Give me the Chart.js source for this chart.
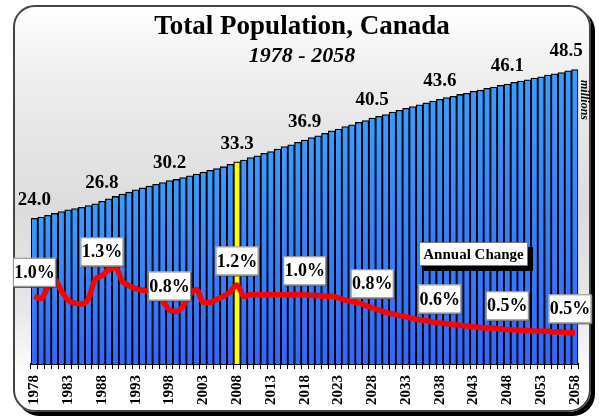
<!DOCTYPE html>
<html>
<head>
<meta charset="utf-8">
<title>Total Population, Canada</title>
<script src="https://cdn.jsdelivr.net/npm/chart.js@4.4.1/dist/chart.umd.min.js"></script>
<style>
    body { margin: 0; background: #fff; }
    .wrap { position: relative; width: 599px; height: 419px; overflow: hidden; font-family: 'Liberation Serif', 'Times New Roman', serif; }
    .frame {
        position: absolute; left: 13px; top: 5px; width: 574px; height: 403px;
        border: 2px solid #444; border-radius: 22px;
        background: linear-gradient(to bottom, #ffffff 0%, #eeeeee 18%, #dcdcdc 50%, #e8e8e8 75%, #ffffff 92%);
        box-shadow: 4px 4px 0 #000;
    }
    canvas { position: absolute; left: 0; top: 0; }
    .title { position: absolute; left: 0; width: 604px; text-align: center; color: #000; line-height: 1; }
    .t1 { top: 12px; font-size: 27px; font-weight: bold; }
    .t2 { top: 44px; font-size: 22px; font-weight: bold; font-style: italic; }
    .units { position: absolute; left: 561px; top: 94px; width: 48px; text-align: center; font-size: 12px; font-weight: bold; font-style: italic; line-height: 1; transform: rotate(90deg); }
    .legend {
        position: absolute; left: 419px; top: 242px; width: 107px; height: 22px;
        background: #fff; border: 1px solid #777; box-shadow: 5px 5px 0 #000;
        font-size: 15px; font-weight: bold; text-align: center; line-height: 22px;
    }
</style>
</head>
<body>
<div class="wrap">
    <div class="frame"></div>
    <canvas id="popChart" width="599" height="419"></canvas>
    <div class="title t1">Total Population, Canada</div>
    <div class="title t2">1978 - 2058</div>
    <div class="units">millions</div>
    <div class="legend">Annual Change</div>
</div>

<script>
// ====== DATA ======
const years = [
    '1978','1979','1980','1981','1982','1983','1984','1985','1986','1987',
    '1988','1989','1990','1991','1992','1993','1994','1995','1996','1997',
    '1998','1999','2000','2001','2002','2003','2004','2005','2006','2007',
    '2008','2009','2010','2011','2012','2013','2014','2015','2016','2017',
    '2018','2019','2020','2021','2022','2023','2024','2025','2026','2027',
    '2028','2029','2030','2031','2032','2033','2034','2035','2036','2037',
    '2038','2039','2040','2041','2042','2043','2044','2045','2046','2047',
    '2048','2049','2050','2051','2052','2053','2054','2055','2056','2057',
    '2058'
];

// population, millions
const population = [
    24.0, 24.2, 24.5, 24.8, 25.1, 25.4, 25.6, 25.8, 26.1, 26.4,
    26.8, 27.2, 27.6, 28.0, 28.3, 28.7, 29.0, 29.3, 29.6, 29.9,
    30.2, 30.4, 30.7, 31.0, 31.3, 31.6, 31.9, 32.2, 32.5, 32.9,
    33.3, 33.6, 34.0, 34.3, 34.7, 35.0, 35.4, 35.8, 36.1, 36.5,
    36.9, 37.3, 37.6, 38.0, 38.4, 38.7, 39.1, 39.4, 39.8, 40.1,
    40.5, 40.8, 41.1, 41.5, 41.8, 42.1, 42.4, 42.7, 43.0, 43.3,
    43.6, 43.9, 44.1, 44.4, 44.6, 44.9, 45.1, 45.4, 45.6, 45.9,
    46.1, 46.4, 46.6, 46.8, 47.1, 47.3, 47.6, 47.8, 48.0, 48.3,
    48.5
];

// annual change, %
const annualChange = [
    0.98, 0.95, 1.10, 1.20, 1.05, 0.93, 0.89, 0.88, 0.95, 1.20,
    1.25, 1.33, 1.36, 1.18, 1.12, 1.08, 1.06, 1.04, 1.00, 0.92,
    0.80, 0.78, 0.85, 1.00, 1.07, 0.90, 0.90, 0.94, 0.98, 1.04,
    1.13, 0.98, 1.00, 1.00, 1.00, 1.00, 1.00, 1.00, 1.00, 1.00,
    1.00, 0.99, 0.99, 0.98, 0.98, 0.96, 0.93, 0.91, 0.89, 0.86,
    0.83, 0.80, 0.77, 0.75, 0.73, 0.71, 0.69, 0.67, 0.66, 0.64,
    0.63, 0.62, 0.61, 0.60, 0.59, 0.58, 0.57, 0.56, 0.56, 0.55,
    0.54, 0.54, 0.53, 0.53, 0.52, 0.52, 0.52, 0.51, 0.51, 0.50,
    0.50
];

// labelled years and their boxed change values
const labelYears = ['1978','1988','1998','2008','2018','2028','2038','2048','2058'];
const changeLabels = ['1.0%','1.3%','0.8%','1.2%','1.0%','0.8%','0.6%','0.5%','0.5%'];
const highlightYear = '2008';

// ====== LABELS PLUGIN ======
const valueLabels = {
    id: 'valueLabels',
    afterDatasetsDraw(chart) {
        const ctx = chart.ctx;
        const lineMeta = chart.getDatasetMeta(0);
        const barMeta = chart.getDatasetMeta(1);
        ctx.save();
        labelYears.forEach((yr, k) => {
            const i = years.indexOf(yr);

            // population value above the bar (kept inside the frame at the right end)
            const bar = barMeta.data[i];
            ctx.font = "bold 19px 'Liberation Serif'";
            ctx.fillStyle = '#000';
            ctx.textAlign = 'center';
            ctx.textBaseline = 'middle';
            ctx.fillText(population[i].toFixed(1), Math.min(bar.x, chart.width - 33), bar.y - 18);

            // boxed change value above the line
            const pt = lineMeta.data[i];
            const w = 43, h = 29;
            const cx = Math.min(pt.x, chart.width - 29);
            const cy = pt.y - 24;
            ctx.fillStyle = '#444';
            ctx.fillRect(cx - w / 2 + 1, cy - h / 2 + 1, w, h);
            ctx.fillStyle = '#fff';
            ctx.fillRect(cx - w / 2, cy - h / 2, w, h);
            ctx.strokeStyle = '#888';
            ctx.lineWidth = 1;
            ctx.strokeRect(cx - w / 2 + 0.5, cy - h / 2 + 0.5, w - 1, h - 1);
            ctx.font = "bold 18px 'Liberation Serif'";
            ctx.fillStyle = '#000';
            ctx.fillText(changeLabels[k], cx, cy + 1);
        });
        ctx.restore();
    }
};

// ====== CHART ======
document.addEventListener('DOMContentLoaded', function () {
    const ctxPop = document.getElementById('popChart').getContext('2d');
    new Chart(ctxPop, {
        type: 'bar',
        data: {
            labels: years,
            datasets: [
                {
                    type: 'line',
                    label: 'Annual Change',
                    data: annualChange,
                    yAxisID: 'y2',
                    borderColor: '#ff0000',
                    borderWidth: 5.5,
                    pointRadius: 0,
                    cubicInterpolationMode: 'monotone',
                    fill: false,
                    order: 0
                },
                {
                    label: 'Population',
                    data: population,
                    yAxisID: 'y',
                    borderColor: '#000',
                    borderWidth: 1.3,
                    barPercentage: 1,
                    categoryPercentage: 1,
                    order: 1,
                    backgroundColor: function (c) {
                        const chart = c.chart;
                        const area = chart.chartArea;
                        if (years[c.dataIndex] === highlightYear) return '#ffff00';
                        if (!area || c.type !== 'data') return '#3380ff';
                        const top = chart.scales.y.getPixelForValue(c.raw);
                        const g = chart.ctx.createLinearGradient(0, top, 0, area.bottom);
                        g.addColorStop(0, '#3a9cff');
                        g.addColorStop(1, '#3366ff');
                        return g;
                    }
                }
            ]
        },
        options: {
            responsive: false,
            animation: false,
            layout: { padding: { top: 24, left: 31, right: 20, bottom: 0 } },
            plugins: { legend: { display: false }, tooltip: { enabled: false } },
            scales: {
                x: {
                    afterFit: function (s) { s.height = 55; },
                    grid: { display: true, drawOnChartArea: false, color: '#000', tickLength: 5, lineWidth: 1 },
                    border: { display: true, color: '#000', width: 2 },
                    ticks: {
                        autoSkip: false,
                        minRotation: 90,
                        maxRotation: 90,
                        padding: 6,
                        color: '#000',
                        font: { family: "'Liberation Serif'", size: 15, weight: 'bold' },
                        callback: function (v, i) { return i % 5 === 0 ? years[i] : ''; }
                    }
                },
                y: { display: false, min: 0, max: 56 },
                y2: { display: false, position: 'right', min: 0.09, max: 4.56 }
            }
        },
        plugins: [valueLabels]
    });
});
</script>
</body>
</html>
